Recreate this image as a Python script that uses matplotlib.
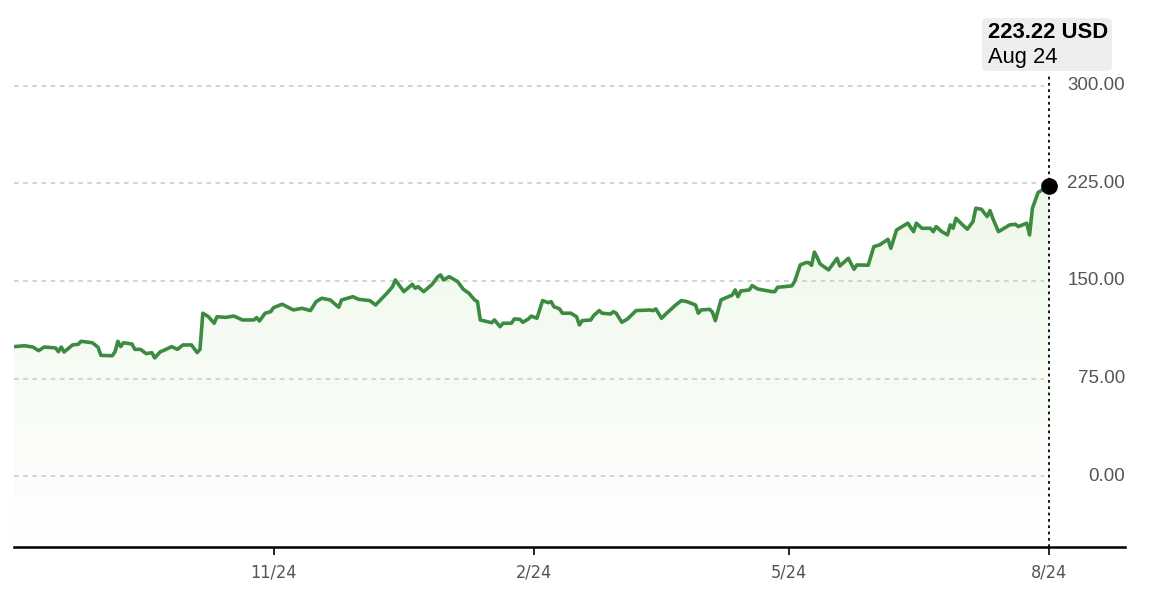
import numpy as np
import pandas as pd
import matplotlib
matplotlib.use('Agg')
import matplotlib.pyplot as plt
from matplotlib.patches import FancyBboxPatch

# price data (days since 2023-08-01, USD)
days = [0, 4, 7, 9, 11, 15, 16, 17, 18, 21, 23, 24, 28, 30, 31, 35, 36, 37, 38, 39,
        42, 43, 45, 47, 49, 50, 52, 53, 56, 58, 60, 63, 65, 66, 67, 69, 71, 72, 75, 78,
        81, 85, 86, 87, 89, 91, 92, 95, 99, 102, 105, 107, 109, 112, 115, 116, 120, 122, 126, 128,
        132, 134, 135, 138, 141, 142, 143, 145, 148, 150, 151, 152, 154, 157, 159, 161, 163, 164, 165, 169,
        170, 172, 173, 176, 177, 179, 180, 182, 183, 185, 187, 189, 190, 191, 193, 194, 197, 199, 200, 201,
        204, 205, 207, 208, 211, 212, 213, 215, 217, 220, 225, 226, 227, 229, 231, 234, 236, 238, 241, 242,
        243, 246, 247, 248, 250, 254, 255, 256, 257, 260, 261, 263, 268, 269, 270, 275, 276, 278, 280, 281,
        282, 283, 284, 285, 288, 291, 292, 295, 297, 298, 302, 304, 306, 309, 310, 312, 316, 318, 319, 321,
        324, 325, 326, 328, 330, 331, 332, 333, 335, 337, 339, 340, 342, 344, 345, 346, 348, 352, 354, 355,
        358, 359, 360, 362, 366]
prices = [99.4, 100.2, 99.2, 96.4, 99.2, 98.5, 95.6, 99.2, 95.4, 100.8, 101.3, 103.6, 102.5, 99.0, 92.8, 92.5, 95.6, 103.6, 99.5, 102.5,
          101.5, 97.4, 97.4, 94.1, 94.9, 90.8, 95.6, 96.4, 99.5, 97.4, 100.8, 100.8, 94.9, 97.4, 125.2, 122.5, 117.5, 122.5, 122.0, 123.0,
          120.0, 120.0, 121.8, 119.2, 125.2, 126.4, 129.5, 132.1, 127.7, 129.0, 127.2, 134.1, 136.7, 135.4, 129.8, 135.4, 137.9, 135.9, 134.9, 131.5,
          140.5, 145.6, 150.8, 141.8, 147.4, 144.4, 145.6, 141.8, 147.4, 153.3, 154.6, 150.8, 153.3, 149.5, 143.6, 140.5, 135.4, 134.1, 120.0, 117.9,
          120.0, 114.8, 117.5, 117.5, 120.8, 120.5, 118.2, 120.8, 123.0, 121.3, 134.9, 133.3, 134.1, 130.2, 128.5, 125.2, 125.2, 122.5, 116.2, 119.5,
          120.0, 123.3, 127.2, 125.2, 124.6, 126.4, 125.2, 118.2, 120.8, 127.2, 127.7, 127.2, 128.5, 121.3, 125.6, 131.5, 134.9, 134.1, 131.5, 125.2,
          127.7, 128.2, 125.9, 119.5, 135.4, 139.2, 143.1, 137.9, 142.3, 143.1, 146.4, 143.8, 141.8, 141.8, 145.1, 146.2, 149.5, 162.3, 164.1, 164.1,
          162.0, 172.2, 168.0, 163.1, 158.5, 167.4, 161.5, 167.4, 159.0, 162.3, 162.1, 176.4, 177.7, 182.0, 175.1, 189.2, 194.4, 187.9, 194.4, 190.5,
          190.5, 187.9, 191.8, 187.9, 185.4, 193.1, 190.5, 198.2, 193.8, 189.8, 195.6, 205.9, 205.1, 199.5, 204.1, 198.2, 187.9, 193.1, 193.6, 191.8,
          194.4, 185.4, 205.9, 218.0, 223.22]

start = pd.Timestamp('2023-08-01')
dates = start + pd.to_timedelta(days, unit='D')

y_ticks = [0, 75, 150, 225, 300]
y_labels = ['0.00', '75.00', '150.00', '225.00', '300.00']
x_tick_dates = pd.to_datetime(['2023-11-01', '2024-02-01', '2024-05-01', '2024-08-01'])
x_labels = ['11/24', '2/24', '5/24', '8/24']
last_price_label = '223.22 USD'
last_date_label = 'Aug 24'

line_color = '#3d8b40'
grey = '#555555'

plt.rcParams['font.family'] = ['Liberation Sans', 'DejaVu Sans']

fig = plt.figure(figsize=(11.64, 6.14), dpi=100)
ax = fig.add_axes([0.012, 0.109, 0.9545, 0.891])

x_num = matplotlib.dates.date2num(dates)
ymin, ymax = -54.6, 366
x_left = matplotlib.dates.date2num(start + pd.Timedelta(days=0.3))
x_right = matplotlib.dates.date2num(start + pd.Timedelta(days=392.7))
ax.set_xlim(x_left, x_right)
ax.set_ylim(ymin, ymax)

# gradient fill under the line
grad = np.linspace(1, 0, 256).reshape(-1, 1)
cmap = matplotlib.colors.LinearSegmentedColormap.from_list('g', ['#ffffff', '#eef8e9'])
top = max(prices)
img = ax.imshow(grad, cmap=cmap, aspect='auto', origin='upper',
                extent=[x_num[0], x_num[-1], ymin, top], zorder=1)
poly = ax.fill_between(x_num, prices, ymin, color='none')
path = poly.get_paths()[0]
img.set_clip_path(path, transform=ax.transData)

# gridlines
grid_end = matplotlib.dates.date2num(start + pd.Timedelta(days=364))
ax.hlines(y_ticks, x_left, grid_end, colors='#c8c8c8', linestyles=(0, (3, 3)), linewidth=1.1, zorder=2)
for v, lab in zip(y_ticks, y_labels):
    ax.text(x_right, v, lab, ha='right', va='center', fontsize=13.5, color=grey)

ax.plot(x_num, prices, color=line_color, linewidth=2.6, zorder=3, solid_joinstyle='round')

# crosshair at last point
ax.vlines(x_num[-1], ymin, 352 - 42, colors='black', linestyles=(0, (1.5, 2)), linewidth=1.3, zorder=2)
ax.plot(x_num[-1], prices[-1], 'o', color='black', markersize=11, zorder=4)

for s in ['top', 'right', 'left']:
    ax.spines[s].set_visible(False)
ax.spines['bottom'].set_linewidth(1.8)
ax.set_yticks([])
ax.set_xticks(matplotlib.dates.date2num(x_tick_dates))
ax.set_xticklabels(x_labels, fontstretch='condensed', family=['DejaVu Sans', 'Liberation Sans'])
ax.tick_params(axis='x', length=6, width=1.2, colors='black', labelcolor=grey, labelsize=13, pad=6)

# tooltip
box = FancyBboxPatch((982 / 1164, 1 - 71 / 614), 130 / 1164, 53 / 614,
                     boxstyle='round,pad=0,rounding_size=0.006', transform=fig.transFigure,
                     facecolor='#eeeeee', edgecolor='none', zorder=5)
fig.patches.append(box)
fig.text(988 / 1164, 1 - 32 / 614, last_price_label, fontsize=15.8, fontweight='bold',
         color='black', va='center', ha='left', zorder=6)
fig.text(988 / 1164, 1 - 58 / 614, last_date_label, fontsize=15.8, color='black', va='center',
         ha='left', zorder=6)

fig.savefig('out.png', dpi=100)
